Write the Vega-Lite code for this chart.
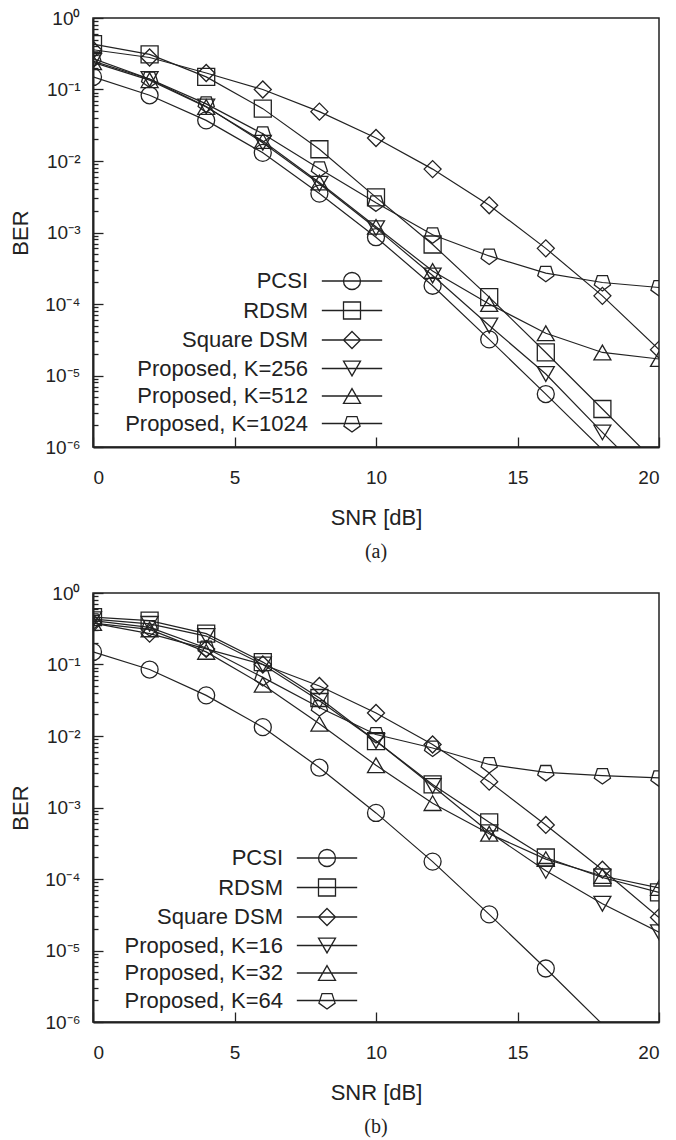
{
  "$schema": "https://vega.github.io/schema/vega-lite/v6.json",
  "padding": {"left": 8, "top": 8, "right": 10, "bottom": 0},
  "spacing": 20,
  "resolve": {"scale": {"shape": "independent"}, "legend": {"shape": "independent"}},
  "config": {
    "font": "Liberation Sans",
    "view": {"stroke": "#222", "strokeWidth": 1.5},
    "axis": {
      "grid": false,
      "domainColor": "#222",
      "domainWidth": 2,
      "tickColor": "#222",
      "tickWidth": 1.3,
      "labelFont": "Liberation Sans",
      "labelFontSize": 19,
      "labelColor": "#222",
      "titleFont": "Liberation Sans",
      "titleFontSize": 22,
      "titleFontWeight": "normal",
      "titleColor": "#222"
    },
    "legend": {
      "title": null, "orient": "none", "padding": 0, "symbolSize": 289,
      "labelAlign": "right", "labelOffset": -55, "labelFontSize": 22, "labelFont": "Liberation Sans", "labelColor": "#222",
      "rowPadding": 5.5, "labelLimit": 400, "symbolOpacity": 1, "symbolStrokeColor": "#222",
      "symbolFillColor": "transparent", "symbolStrokeWidth": 1.3
    },
    "title": {"font": "Liberation Serif", "fontSize": 20, "fontWeight": "normal", "color": "#222"}
  },
  "vconcat": [
    {
      "width": 566,
      "height": 429,
      "title": {"text": "(a)", "orient": "bottom", "frame": "group", "anchor": "middle", "offset": 14},
      "data": {"values": [
        {"snr": 0, "ber": 0.15, "series": "PCSI"},
        {"snr": 2, "ber": 0.083, "series": "PCSI"},
        {"snr": 4, "ber": 0.037, "series": "PCSI"},
        {"snr": 6, "ber": 0.013, "series": "PCSI"},
        {"snr": 8, "ber": 0.0035, "series": "PCSI"},
        {"snr": 10, "ber": 0.00086, "series": "PCSI"},
        {"snr": 12, "ber": 0.00018, "series": "PCSI"},
        {"snr": 14, "ber": 0.000032, "series": "PCSI"},
        {"snr": 16, "ber": 0.0000055, "series": "PCSI"},
        {"snr": 18, "ber": 0.00000092, "series": "PCSI"},
        {"snr": 0, "ber": 0.43, "series": "RDSM"},
        {"snr": 2, "ber": 0.31, "series": "RDSM"},
        {"snr": 4, "ber": 0.15, "series": "RDSM"},
        {"snr": 6, "ber": 0.054, "series": "RDSM"},
        {"snr": 8, "ber": 0.0146, "series": "RDSM"},
        {"snr": 10, "ber": 0.0031, "series": "RDSM"},
        {"snr": 12, "ber": 0.00068, "series": "RDSM"},
        {"snr": 14, "ber": 0.000125, "series": "RDSM"},
        {"snr": 16, "ber": 0.000021, "series": "RDSM"},
        {"snr": 18, "ber": 0.0000034, "series": "RDSM"},
        {"snr": 20, "ber": 0.00000055, "series": "RDSM"},
        {"snr": 0, "ber": 0.36, "series": "Square DSM"},
        {"snr": 2, "ber": 0.28, "series": "Square DSM"},
        {"snr": 4, "ber": 0.17, "series": "Square DSM"},
        {"snr": 6, "ber": 0.1, "series": "Square DSM"},
        {"snr": 8, "ber": 0.049, "series": "Square DSM"},
        {"snr": 10, "ber": 0.021, "series": "Square DSM"},
        {"snr": 12, "ber": 0.0077, "series": "Square DSM"},
        {"snr": 14, "ber": 0.0024, "series": "Square DSM"},
        {"snr": 16, "ber": 0.0006, "series": "Square DSM"},
        {"snr": 18, "ber": 0.00013, "series": "Square DSM"},
        {"snr": 20, "ber": 0.000023, "series": "Square DSM"},
        {"snr": 0, "ber": 0.25, "series": "Proposed, K=256"},
        {"snr": 2, "ber": 0.14, "series": "Proposed, K=256"},
        {"snr": 4, "ber": 0.058, "series": "Proposed, K=256"},
        {"snr": 6, "ber": 0.018, "series": "Proposed, K=256"},
        {"snr": 8, "ber": 0.0048, "series": "Proposed, K=256"},
        {"snr": 10, "ber": 0.00115, "series": "Proposed, K=256"},
        {"snr": 12, "ber": 0.00025, "series": "Proposed, K=256"},
        {"snr": 14, "ber": 0.00005, "series": "Proposed, K=256"},
        {"snr": 16, "ber": 0.0000105, "series": "Proposed, K=256"},
        {"snr": 18, "ber": 0.0000016, "series": "Proposed, K=256"},
        {"snr": 20, "ber": 0.00000026, "series": "Proposed, K=256"},
        {"snr": 0, "ber": 0.24, "series": "Proposed, K=512"},
        {"snr": 2, "ber": 0.135, "series": "Proposed, K=512"},
        {"snr": 4, "ber": 0.057, "series": "Proposed, K=512"},
        {"snr": 6, "ber": 0.019, "series": "Proposed, K=512"},
        {"snr": 8, "ber": 0.005, "series": "Proposed, K=512"},
        {"snr": 10, "ber": 0.0012, "series": "Proposed, K=512"},
        {"snr": 12, "ber": 0.00029, "series": "Proposed, K=512"},
        {"snr": 14, "ber": 0.0001, "series": "Proposed, K=512"},
        {"snr": 16, "ber": 0.000039, "series": "Proposed, K=512"},
        {"snr": 18, "ber": 0.000021, "series": "Proposed, K=512"},
        {"snr": 20, "ber": 0.000017, "series": "Proposed, K=512"},
        {"snr": 0, "ber": 0.27, "series": "Proposed, K=1024"},
        {"snr": 2, "ber": 0.14, "series": "Proposed, K=1024"},
        {"snr": 4, "ber": 0.063, "series": "Proposed, K=1024"},
        {"snr": 6, "ber": 0.024, "series": "Proposed, K=1024"},
        {"snr": 8, "ber": 0.0078, "series": "Proposed, K=1024"},
        {"snr": 10, "ber": 0.0026, "series": "Proposed, K=1024"},
        {"snr": 12, "ber": 0.00093, "series": "Proposed, K=1024"},
        {"snr": 14, "ber": 0.00047, "series": "Proposed, K=1024"},
        {"snr": 16, "ber": 0.00027, "series": "Proposed, K=1024"},
        {"snr": 18, "ber": 0.0002, "series": "Proposed, K=1024"},
        {"snr": 20, "ber": 0.00017, "series": "Proposed, K=1024"}
      ]},
      "encoding": {
        "x": {"field": "snr", "type": "quantitative", "scale": {"domain": [0, 20], "nice": false},
          "axis": {"title": "SNR [dB]", "values": [0, 5, 10, 15, 20], "tickSize": -10, "labelPadding": 31, "titlePadding": 20}},
        "y": {"field": "ber", "type": "quantitative", "scale": {"type": "log", "domain": [0.000001, 1], "nice": false},
          "axis": {"title": "BER", "titlePadding": 12, "labelPadding": 23, "labelOverlap": false, "labelBound": false,
            "values": [0.000001,0.000002,0.000003,0.000004,0.000005,0.000006,0.000007,0.000008,0.000009,0.00001,0.00002,0.00003,0.00004,0.00005,0.00006,0.00007,0.00008,0.00009,0.0001,0.0002,0.0003,0.0004,0.0005,0.0006,0.0007,0.0008,0.0009,0.001,0.002,0.003,0.004,0.005,0.006,0.007,0.008,0.009,0.01,0.02,0.03,0.04,0.05,0.06,0.07,0.08,0.09,0.1,0.2,0.3,0.4,0.5,0.6,0.7,0.8,0.9,1],
            "tickSize": {"condition": {"test": "abs(log(datum.value)/LN10 - round(log(datum.value)/LN10)) < 0.000001", "value": -10}, "value": -5},
            "labelExpr": "abs(log(datum.value)/LN10 - round(log(datum.value)/LN10)) < 0.000001 ? '10' + ['⁰','⁻¹','⁻²','⁻³','⁻⁴','⁻⁵','⁻⁶'][abs(round(log(datum.value)/LN10))] : ''"}}
      },
      "resolve": {"scale": {"shape": "independent"}, "legend": {"shape": "independent"}},
      "layer": [
        {"mark": {"type": "line", "clip": true, "color": "#222", "strokeWidth": 1.2}, "encoding": {"detail": {"field": "series"}}},
        {"transform": [{"filter": "datum.ber >= 0.000001"}],
          "mark": {"type": "point", "clip": true, "filled": false, "color": "#222", "strokeWidth": 1.3, "size": 289, "opacity": 1},
          "encoding": {"shape": {"field": "series", "type": "nominal",
            "scale": {"domain": ["PCSI", "RDSM", "Square DSM", "Proposed, K=256", "Proposed, K=512", "Proposed, K=1024"],
              "range": ["circle", "square", "diamond", "triangle-down", "triangle-up", "M0,1L0.951,0.309L0.588,-0.809L-0.588,-0.809L-0.951,0.309Z"]},
            "legend": null}}},
        {"transform": [{"filter": "datum.ber >= 0.000001"}],
          "mark": {"type": "point", "clip": true, "filled": false, "color": "#222", "strokeWidth": 1.3, "size": 289, "opacity": 0},
          "encoding": {"shape": {"field": "series", "type": "nominal",
            "scale": {"domain": ["PCSI", "RDSM", "Square DSM", "Proposed, K=256", "Proposed, K=512", "Proposed, K=1024"],
              "range": ["M-3.55,0L3.55,0M1,0A1,1,0,1,1,-1,0A1,1,0,1,1,1,0Z", "M-3.55,0L3.55,0M-1,-1L1,-1L1,1L-1,1Z", "M-3.55,0L3.55,0M0,-1L1,0L0,1L-1,0Z", "M-3.55,0L3.55,0M-1,-0.866L1,-0.866L0,0.866Z", "M-3.55,0L3.55,0M0,-0.866L1,0.866L-1,0.866Z", "M-3.55,0L3.55,0M0,1L0.951,0.309L0.588,-0.809L-0.588,-0.809L-0.951,0.309Z"]},
            "legend": {"legendX": 248, "legendY": 252}}}}
      ]
    },
    {
      "width": 566,
      "height": 429,
      "title": {"text": "(b)", "orient": "bottom", "frame": "group", "anchor": "middle", "offset": 14},
      "data": {"values": [
        {"snr": 0, "ber": 0.15, "series": "PCSI"},
        {"snr": 2, "ber": 0.085, "series": "PCSI"},
        {"snr": 4, "ber": 0.037, "series": "PCSI"},
        {"snr": 6, "ber": 0.0133, "series": "PCSI"},
        {"snr": 8, "ber": 0.0036, "series": "PCSI"},
        {"snr": 10, "ber": 0.00084, "series": "PCSI"},
        {"snr": 12, "ber": 0.000175, "series": "PCSI"},
        {"snr": 14, "ber": 0.000032, "series": "PCSI"},
        {"snr": 16, "ber": 0.0000056, "series": "PCSI"},
        {"snr": 18, "ber": 0.00000093, "series": "PCSI"},
        {"snr": 0, "ber": 0.46, "series": "RDSM"},
        {"snr": 2, "ber": 0.41, "series": "RDSM"},
        {"snr": 4, "ber": 0.27, "series": "RDSM"},
        {"snr": 6, "ber": 0.108, "series": "RDSM"},
        {"snr": 8, "ber": 0.034, "series": "RDSM"},
        {"snr": 10, "ber": 0.0085, "series": "RDSM"},
        {"snr": 12, "ber": 0.0021, "series": "RDSM"},
        {"snr": 14, "ber": 0.00062, "series": "RDSM"},
        {"snr": 16, "ber": 0.0002, "series": "RDSM"},
        {"snr": 18, "ber": 0.000105, "series": "RDSM"},
        {"snr": 20, "ber": 0.000065, "series": "RDSM"},
        {"snr": 0, "ber": 0.38, "series": "Square DSM"},
        {"snr": 2, "ber": 0.27, "series": "Square DSM"},
        {"snr": 4, "ber": 0.165, "series": "Square DSM"},
        {"snr": 6, "ber": 0.1, "series": "Square DSM"},
        {"snr": 8, "ber": 0.05, "series": "Square DSM"},
        {"snr": 10, "ber": 0.021, "series": "Square DSM"},
        {"snr": 12, "ber": 0.0076, "series": "Square DSM"},
        {"snr": 14, "ber": 0.0023, "series": "Square DSM"},
        {"snr": 16, "ber": 0.00057, "series": "Square DSM"},
        {"snr": 18, "ber": 0.000135, "series": "Square DSM"},
        {"snr": 20, "ber": 0.000029, "series": "Square DSM"},
        {"snr": 0, "ber": 0.43, "series": "Proposed, K=16"},
        {"snr": 2, "ber": 0.37, "series": "Proposed, K=16"},
        {"snr": 4, "ber": 0.25, "series": "Proposed, K=16"},
        {"snr": 6, "ber": 0.1, "series": "Proposed, K=16"},
        {"snr": 8, "ber": 0.031, "series": "Proposed, K=16"},
        {"snr": 10, "ber": 0.0085, "series": "Proposed, K=16"},
        {"snr": 12, "ber": 0.002, "series": "Proposed, K=16"},
        {"snr": 14, "ber": 0.00045, "series": "Proposed, K=16"},
        {"snr": 16, "ber": 0.00013, "series": "Proposed, K=16"},
        {"snr": 18, "ber": 0.000045, "series": "Proposed, K=16"},
        {"snr": 20, "ber": 0.000018, "series": "Proposed, K=16"},
        {"snr": 0, "ber": 0.38, "series": "Proposed, K=32"},
        {"snr": 2, "ber": 0.31, "series": "Proposed, K=32"},
        {"snr": 4, "ber": 0.15, "series": "Proposed, K=32"},
        {"snr": 6, "ber": 0.052, "series": "Proposed, K=32"},
        {"snr": 8, "ber": 0.0148, "series": "Proposed, K=32"},
        {"snr": 10, "ber": 0.0039, "series": "Proposed, K=32"},
        {"snr": 12, "ber": 0.00115, "series": "Proposed, K=32"},
        {"snr": 14, "ber": 0.00043, "series": "Proposed, K=32"},
        {"snr": 16, "ber": 0.00019, "series": "Proposed, K=32"},
        {"snr": 18, "ber": 0.00011, "series": "Proposed, K=32"},
        {"snr": 20, "ber": 0.000075, "series": "Proposed, K=32"},
        {"snr": 0, "ber": 0.41, "series": "Proposed, K=64"},
        {"snr": 2, "ber": 0.33, "series": "Proposed, K=64"},
        {"snr": 4, "ber": 0.17, "series": "Proposed, K=64"},
        {"snr": 6, "ber": 0.066, "series": "Proposed, K=64"},
        {"snr": 8, "ber": 0.025, "series": "Proposed, K=64"},
        {"snr": 10, "ber": 0.0105, "series": "Proposed, K=64"},
        {"snr": 12, "ber": 0.0068, "series": "Proposed, K=64"},
        {"snr": 14, "ber": 0.004, "series": "Proposed, K=64"},
        {"snr": 16, "ber": 0.0031, "series": "Proposed, K=64"},
        {"snr": 18, "ber": 0.0028, "series": "Proposed, K=64"},
        {"snr": 20, "ber": 0.0026, "series": "Proposed, K=64"}
      ]},
      "encoding": {
        "x": {"field": "snr", "type": "quantitative", "scale": {"domain": [0, 20], "nice": false},
          "axis": {"title": "SNR [dB]", "values": [0, 5, 10, 15, 20], "tickSize": -10, "labelPadding": 31, "titlePadding": 20}},
        "y": {"field": "ber", "type": "quantitative", "scale": {"type": "log", "domain": [0.000001, 1], "nice": false},
          "axis": {"title": "BER", "titlePadding": 12, "labelPadding": 23, "labelOverlap": false, "labelBound": false,
            "values": [0.000001,0.000002,0.000003,0.000004,0.000005,0.000006,0.000007,0.000008,0.000009,0.00001,0.00002,0.00003,0.00004,0.00005,0.00006,0.00007,0.00008,0.00009,0.0001,0.0002,0.0003,0.0004,0.0005,0.0006,0.0007,0.0008,0.0009,0.001,0.002,0.003,0.004,0.005,0.006,0.007,0.008,0.009,0.01,0.02,0.03,0.04,0.05,0.06,0.07,0.08,0.09,0.1,0.2,0.3,0.4,0.5,0.6,0.7,0.8,0.9,1],
            "tickSize": {"condition": {"test": "abs(log(datum.value)/LN10 - round(log(datum.value)/LN10)) < 0.000001", "value": -10}, "value": -5},
            "labelExpr": "abs(log(datum.value)/LN10 - round(log(datum.value)/LN10)) < 0.000001 ? '10' + ['⁰','⁻¹','⁻²','⁻³','⁻⁴','⁻⁵','⁻⁶'][abs(round(log(datum.value)/LN10))] : ''"}}
      },
      "resolve": {"scale": {"shape": "independent"}, "legend": {"shape": "independent"}},
      "layer": [
        {"mark": {"type": "line", "clip": true, "color": "#222", "strokeWidth": 1.2}, "encoding": {"detail": {"field": "series"}}},
        {"transform": [{"filter": "datum.ber >= 0.000001"}],
          "mark": {"type": "point", "clip": true, "filled": false, "color": "#222", "strokeWidth": 1.3, "size": 289, "opacity": 1},
          "encoding": {"shape": {"field": "series", "type": "nominal",
            "scale": {"domain": ["PCSI", "RDSM", "Square DSM", "Proposed, K=16", "Proposed, K=32", "Proposed, K=64"],
              "range": ["circle", "square", "diamond", "triangle-down", "triangle-up", "M0,1L0.951,0.309L0.588,-0.809L-0.588,-0.809L-0.951,0.309Z"]},
            "legend": null}}},
        {"transform": [{"filter": "datum.ber >= 0.000001"}],
          "mark": {"type": "point", "clip": true, "filled": false, "color": "#222", "strokeWidth": 1.3, "size": 289, "opacity": 0},
          "encoding": {"shape": {"field": "series", "type": "nominal",
            "scale": {"domain": ["PCSI", "RDSM", "Square DSM", "Proposed, K=16", "Proposed, K=32", "Proposed, K=64"],
              "range": ["M-3.55,0L3.55,0M1,0A1,1,0,1,1,-1,0A1,1,0,1,1,1,0Z", "M-3.55,0L3.55,0M-1,-1L1,-1L1,1L-1,1Z", "M-3.55,0L3.55,0M0,-1L1,0L0,1L-1,0Z", "M-3.55,0L3.55,0M-1,-0.866L1,-0.866L0,0.866Z", "M-3.55,0L3.55,0M0,-0.866L1,0.866L-1,0.866Z", "M-3.55,0L3.55,0M0,1L0.951,0.309L0.588,-0.809L-0.588,-0.809L-0.951,0.309Z"]},
            "legend": {"legendX": 223, "legendY": 254}}}}
      ]
    }
  ]
}
